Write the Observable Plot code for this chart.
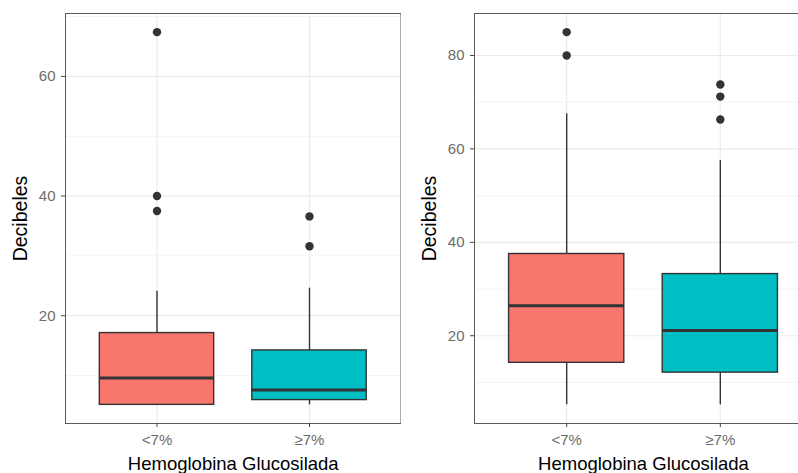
<!DOCTYPE html>
<html>
<head>
<meta charset="utf-8">
<script src="https://cdn.jsdelivr.net/npm/d3@7"></script>
<script src="https://cdn.jsdelivr.net/npm/@observablehq/plot@0.6"></script>
<style>
  html, body { margin: 0; padding: 0; background: #fff; }
  #wrap { display: flex; width: 798px; height: 473px; overflow: hidden; }
  #wrap svg { display: block; flex: none; }
</style>
</head>
<body>
<div id="wrap"></div>
<script>
// ---- Data ----
const categories = ["<7%", "≥7%"];
const fills = ["#F8766D", "#00BFC4"];

// Panel 1
const p1Lo     = [5.1, 5.1];
const p1Q1     = [5.1, 5.9];
const p1Median = [9.6, 7.6];
const p1Q3     = [17.1, 14.2];
const p1Hi     = [24.1, 24.6];
const p1OutCat = [0, 0, 0, 1, 1];
const p1OutVal = [67.4, 40.0, 37.5, 36.6, 31.6];
const p1Ticks  = [20, 40, 60];
const p1Minor  = [10, 30, 50, 70];

// Panel 2
const p2Lo     = [5.2, 5.2];
const p2Q1     = [14.2, 12.1];
const p2Median = [26.4, 21.1];
const p2Q3     = [37.5, 33.2];
const p2Hi     = [67.5, 57.5];
const p2OutCat = [0, 0, 1, 1, 1];
const p2OutVal = [85.0, 80.0, 73.8, 71.2, 66.3];
const p2Ticks  = [20, 40, 60, 80];
const p2Minor  = [10, 30, 50, 70];

const yTitle = "Decibeles";
const xTitle = "Hemoglobina Glucosilada";

function panel({lo, q1, med, q3, hi, outCat, outVal, ticks, minor, width, marginLeft, marginRight}) {
  const stats = categories.map((c, i) => ({
    pos: i + 1, cat: c, lo: lo[i], q1: q1[i], med: med[i], q3: q3[i], hi: hi[i], fill: fills[i]
  }));
  const outs = outVal.map((v, k) => ({pos: outCat[k] + 1, v}));
  const all = [...lo, ...hi, ...outVal];
  const mn = d3.min(all), mx = d3.max(all), pad = (mx - mn) * 0.05;
  const hw = 0.375;
  return Plot.plot({
    width, height: 473,
    marginLeft, marginRight, marginTop: 13, marginBottom: 50,
    style: {fontFamily: "'Liberation Sans', Arial, Helvetica, sans-serif", background: "#fff", overflow: "visible"},
    x: {type: "linear", domain: [0.4, 2.6], axis: null},
    y: {domain: [mn - pad, mx + pad], axis: null},
    marks: [
      Plot.ruleY(minor, {stroke: "#EBEBEB", strokeWidth: 0.6}),
      Plot.ruleY(ticks, {stroke: "#EBEBEB", strokeWidth: 1.2}),
      Plot.ruleX(stats, {x: "pos", stroke: "#EBEBEB", strokeWidth: 1.2}),
      Plot.ruleX(stats, {x: "pos", y1: "lo", y2: "hi", stroke: "#333333", strokeWidth: 1.4}),
      Plot.rect(stats, {x1: d => d.pos - hw, x2: d => d.pos + hw, y1: "q1", y2: "q3",
        fill: "fill", stroke: "#333333", strokeWidth: 1.4}),
      Plot.ruleY(stats, {y: "med", x1: d => d.pos - hw, x2: d => d.pos + hw,
        stroke: "#333333", strokeWidth: 3}),
      Plot.dot(outs, {x: "pos", y: "v", r: 4.2, fill: "#333333", stroke: "none"}),
      Plot.frame({stroke: "#5a5a5a", strokeWidth: 1}),
      Plot.axisY(ticks, {tickSize: 4, tickPadding: 6, fontSize: 15, color: "#6b6b6b",
        stroke: "#444", label: null}),
      Plot.axisX([1, 2], {tickSize: 4, tickPadding: 7, fontSize: 15, color: "#6b6b6b",
        stroke: "#444", tickFormat: d => categories[d - 1], label: null}),
      Plot.text([yTitle], {frameAnchor: "left", text: d => d, rotate: -90, dx: -39,
        lineAnchor: "bottom", textAnchor: "middle", fontSize: 19.5, fill: "#000"}),
      Plot.text([xTitle], {frameAnchor: "bottom", text: d => d, dy: 46,
        lineAnchor: "bottom", textAnchor: "middle", fontSize: 18.5, fill: "#000"})
    ]
  });
}

const wrap = document.getElementById("wrap");
wrap.append(panel({lo: p1Lo, q1: p1Q1, med: p1Median, q3: p1Q3, hi: p1Hi,
  outCat: p1OutCat, outVal: p1OutVal, ticks: p1Ticks, minor: p1Minor,
  width: 401, marginLeft: 65, marginRight: 0.5}));
wrap.append(panel({lo: p2Lo, q1: p2Q1, med: p2Median, q3: p2Q3, hi: p2Hi,
  outCat: p2OutCat, outVal: p2OutVal, ticks: p2Ticks, minor: p2Minor,
  width: 411, marginLeft: 73, marginRight: 0}));
</script>
</body>
</html>
